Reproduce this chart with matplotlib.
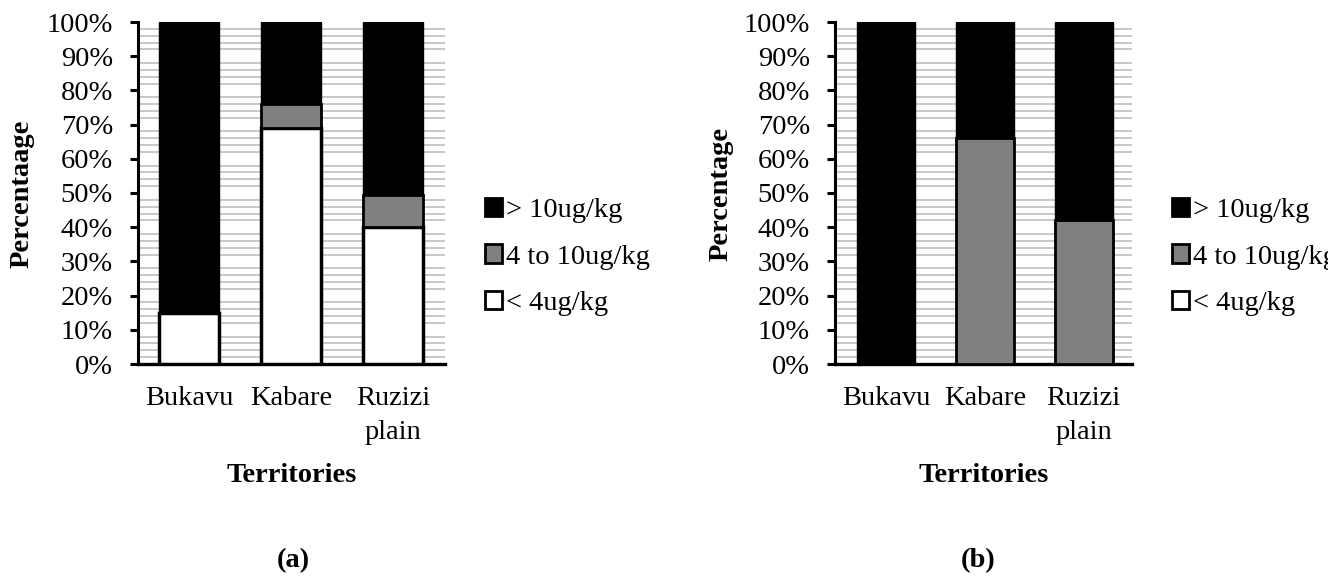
import matplotlib.pyplot as plt
from matplotlib.patches import Patch
from matplotlib.ticker import FixedLocator, MultipleLocator, PercentFormatter

plt.rcParams['font.family'] = ['Liberation Serif', 'DejaVu Serif']

territories = ['Bukavu', 'Kabare', 'Ruzizi\nplain']
legend_labels = ['> 10ug/kg', '4 to 10ug/kg', '< 4ug/kg']

# panel (a)
a_low = [15, 69, 40]
a_mid = [0, 7, 9.5]
a_high = [85, 24, 50.5]

# panel (b)
b_low = [0, 0, 0]
b_mid = [0, 66, 42]
b_high = [100, 34, 58]

W, H = 1328, 581
FS = 20.5
fig = plt.figure(figsize=(W / 100, H / 100), dpi=100)


def panel(left_px, right_px, xlim, low, mid, high, ylabel, letter, letter_x):
    ax = fig.add_axes([left_px / W, (H - 364) / H, (right_px - left_px) / W, (364 - 22) / H])
    x = range(len(territories))
    bw = 0.59
    ax.bar(x, low, bw, color='white', edgecolor='black', linewidth=2.5, zorder=3)
    ax.bar(x, mid, bw, bottom=low, color='#808080', edgecolor='black', linewidth=2, zorder=3)
    bottoms = [l + m for l, m in zip(low, mid)]
    ax.bar(x, high, bw, bottom=bottoms, color='black', edgecolor='black', linewidth=1, zorder=3)

    ax.set_xlim(*xlim)
    ax.set_ylim(0, 100)
    ax.yaxis.set_major_locator(MultipleLocator(10))
    ax.yaxis.set_minor_locator(FixedLocator([v for v in range(2, 100, 2) if v % 10]))
    ax.yaxis.set_major_formatter(PercentFormatter(decimals=0))
    ax.grid(True, axis='y', which='minor', color='#c4c4c4', linewidth=1.3, zorder=0)
    ax.set_xticks(list(x))
    ax.set_xticklabels(territories, fontsize=FS, linespacing=1.45)
    ax.tick_params(axis='x', length=0, pad=16)
    ax.tick_params(axis='y', which='major', length=6, width=2.2, labelsize=FS, pad=12)
    ax.tick_params(axis='y', which='minor', length=0)
    for s in ['top', 'right']:
        ax.spines[s].set_visible(False)
    ax.spines['left'].set_linewidth(2.2)
    ax.spines['bottom'].set_linewidth(2.4)

    cx = (left_px + right_px) / 2
    fig.text(ylabel[1] / W, 1 - 194 / H, ylabel[0], rotation=90, fontsize=FS,
             fontweight='bold', ha='center', va='center')
    fig.text(cx / W, 1 - 476 / H, 'Territories', fontsize=FS, fontweight='bold',
             ha='center', va='center')
    fig.text(letter_x / W, 1 - 561 / H, letter, fontsize=FS, fontweight='bold',
             ha='center', va='center')

    handles = [Patch(facecolor='black', edgecolor='black', linewidth=2),
               Patch(facecolor='#808080', edgecolor='black', linewidth=2),
               Patch(facecolor='white', edgecolor='black', linewidth=2)]
    fig.legend(handles, legend_labels, loc='center left',
               bbox_to_anchor=((right_px + 40) / W, 1 - 257 / H),
               frameon=False, fontsize=FS, handlelength=0.6, handleheight=0.6,
               handletextpad=0.15, labelspacing=0.76, borderpad=0, borderaxespad=0)


panel(138, 445, (-0.5, 2.51), a_low, a_mid, a_high, ('Percentaage', 22), '(a)', 293)
panel(835, 1132, (-0.52, 2.49), b_low, b_mid, b_high, ('Percentage', 721), '(b)', 978)

fig.savefig('out.png', dpi=100)
